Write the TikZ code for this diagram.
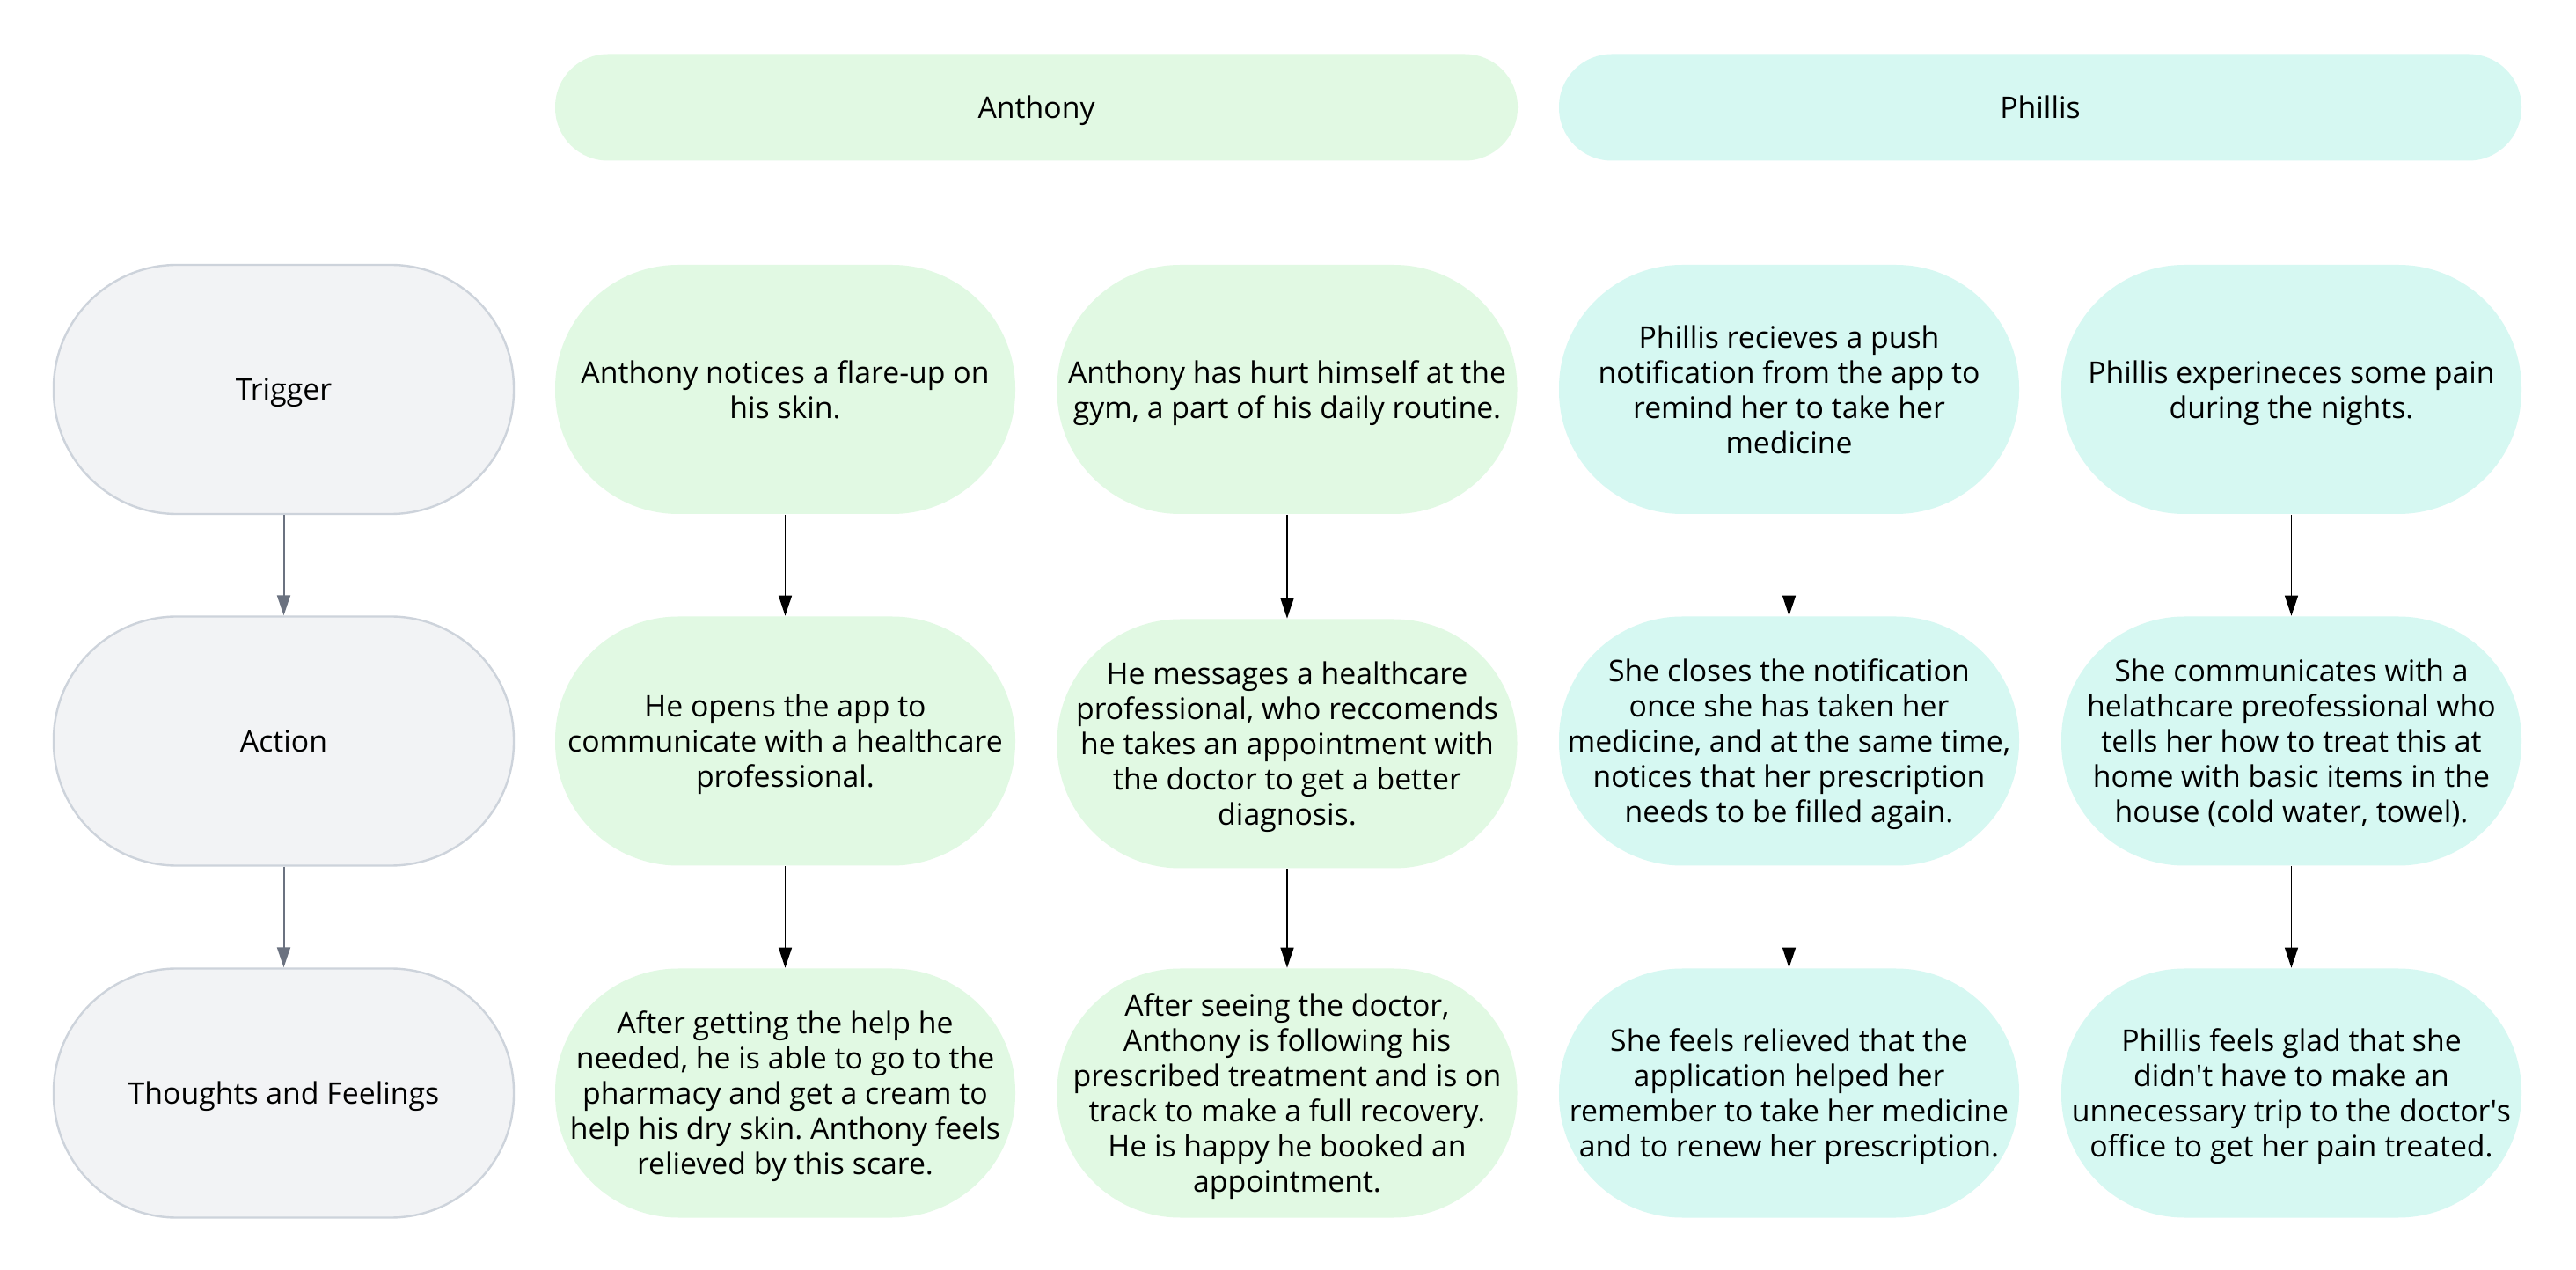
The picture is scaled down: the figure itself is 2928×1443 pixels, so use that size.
\documentclass[tikz,border=0pt]{standalone}
\usepackage{fontspec}
\setmainfont{Open Sans}
\usetikzlibrary{arrows.meta}
\definecolor{grayfill}{HTML}{F2F3F5}
\definecolor{graydraw}{HTML}{CDD3DB}
\definecolor{greenfill}{HTML}{E1F9E3}
\definecolor{tealfill}{HTML}{D6F8F2}
\definecolor{grayarrow}{HTML}{6B7280}
\frenchspacing
\begin{document}
\begin{tikzpicture}[x=0.25pt,y=-0.25pt,
  txt/.style={align=center, inner sep=0pt, text depth=0pt, font=\fontsize{8.45pt}{10pt}\selectfont},
  box/.style={txt, rounded corners=35pt, minimum width=130.75pt, minimum height=70.75pt},
  graybox/.style={box, fill=grayfill, draw=graydraw, line width=0.6pt},
  greenbox/.style={box, fill=greenfill},
  tealbox/.style={box, fill=tealfill},
  header/.style={txt, rounded corners=15pt, minimum width=273.5pt, minimum height=30.25pt},
  garrow/.style={draw=grayarrow, line width=0.5pt, -{Triangle[length=5.75pt,width=3.75pt]}},
  barrow/.style={draw=black, line width=0.35pt, -{Triangle[length=5.75pt,width=3.75pt]}}]
\path[use as bounding box, fill=white] (0,0) rectangle (2928,1443);

% headers
\node[header, fill=greenfill] (hA) at (1178,122) {Anthony};
\node[header, fill=tealfill] (hP) at (2319,122) {Phillis};

% left column
\node[graybox] (l1) at (322.5,442.5) {Trigger};
\node[graybox] (l2) at (322.5,842) {Action};
\node[graybox] (l3) at (322.5,1242) {Thoughts and Feelings};

% Anthony column 1
\node[greenbox] (a1) at (892.5,442.5) {Anthony notices a flare-up on\\his skin.};
\node[greenbox] (a2) at (892.5,842) {He opens the app to\\communicate with a healthcare\\professional.};
\node[greenbox] (a3) at (892.5,1242) {After getting the help he\\needed, he is able to go to the\\pharmacy and get a cream to\\help his dry skin. Anthony feels\\relieved by this scare.};

% Anthony column 2
\node[greenbox] (b1) at (1463,442.5) {Anthony has hurt himself at the\\gym, a part of his daily routine.};
\node[greenbox] (b2) at (1463,845) {He messages a healthcare\\professional, who reccomends\\he takes an appointment with\\the doctor to get a better\\diagnosis.};
\node[greenbox] (b3) at (1463,1242) {After seeing the doctor,\\Anthony is following his\\prescribed treatment and is on\\track to make a full recovery.\\He is happy he booked an\\appointment.};

% Phillis column 1
\node[tealbox] (c1) at (2033.5,442.5) {Phillis recieves a push\\notification from the app to\\remind her to take her\\medicine};
\node[tealbox] (c2) at (2033.5,842) {She closes the notification\\once she has taken her\\medicine, and at the same time,\\notices that her prescription\\needs to be filled again.};
\node[tealbox] (c3) at (2033.5,1242) {She feels relieved that the\\application helped her\\remember to take her medicine\\and to renew her prescription.};

% Phillis column 2
\node[tealbox] (d1) at (2604.5,442.5) {Phillis experineces some pain\\during the nights.};
\node[tealbox] (d2) at (2604.5,842) {She communicates with a\\helathcare preofessional who\\tells her how to treat this at\\home with basic items in the\\house (cold water, towel).};
\node[tealbox] (d3) at (2604.5,1242) {Phillis feels glad that she\\didn\textquotesingle t have to make an\\unnecessary trip to the doctor\textquotesingle s\\office to get her pain treated.};

% connectors
\draw[garrow] (l1.south) -- (l2.north);
\draw[garrow] (l2.south) -- (l3.north);
\draw[barrow] (a1.south) -- (a2.north);
\draw[barrow] (a2.south) -- (a3.north);
\draw[barrow] (b1.south) -- (b2.north);
\draw[barrow] (b2.south) -- (b3.north);
\draw[barrow] (c1.south) -- (c2.north);
\draw[barrow] (c2.south) -- (c3.north);
\draw[barrow] (d1.south) -- (d2.north);
\draw[barrow] (d2.south) -- (d3.north);
\end{tikzpicture}
\end{document}
